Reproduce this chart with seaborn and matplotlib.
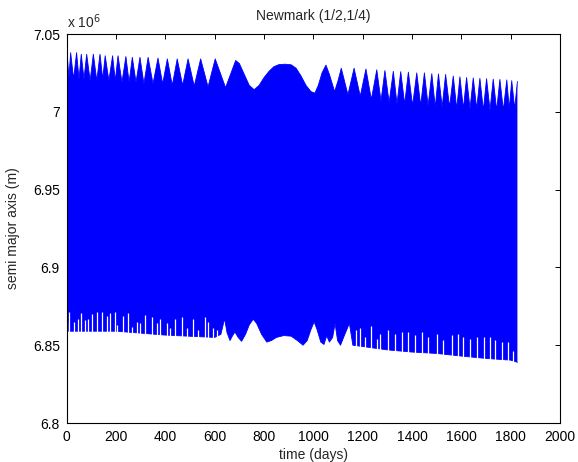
import numpy as np
import pandas as pd
import seaborn as sns
import matplotlib.pyplot as plt
from matplotlib.ticker import FuncFormatter

# upper edge of the oscillation band (peaks and troughs), semi major axis in 1e6 m
upper_t = [0, 2, 9, 16, 28, 40, 50, 59, 70, 81, 95, 108, 122, 135, 146, 156, 171, 186, 197, 208,
           224, 240, 253, 266, 281, 297, 313, 330, 350, 370, 389, 408, 428, 448, 470, 492, 517, 543,
           573, 602, 644, 685, 700, 720, 740, 760, 780, 800, 820, 840, 860, 885, 910, 930, 950, 970,
           990, 1006, 1020, 1035, 1051, 1065, 1086, 1100, 1113, 1140, 1165, 1190, 1213, 1235, 1257,
           1274, 1290, 1307, 1324, 1339, 1354, 1370, 1385, 1402, 1419, 1435, 1450, 1465, 1480, 1494,
           1507, 1522, 1536, 1552, 1567, 1581, 1594, 1608, 1621, 1635, 1648, 1662, 1675, 1689, 1702,
           1716, 1729, 1743, 1756, 1770, 1784, 1794, 1804, 1816, 1827]
upper_v = [7.035, 7.037, 7.022, 7.038, 7.021, 7.038, 7.021, 7.037, 7.021, 7.037, 7.020, 7.037, 7.020,
           7.037, 7.021, 7.036, 7.020, 7.036, 7.020, 7.036, 7.019, 7.0355, 7.019, 7.035, 7.019, 7.035,
           7.018, 7.035, 7.018, 7.0345, 7.018, 7.034, 7.017, 7.034, 7.017, 7.034, 7.0165, 7.034, 7.016,
           7.034, 7.0155, 7.033, 7.031, 7.024, 7.017, 7.0142, 7.017, 7.022, 7.026, 7.029, 7.0303, 7.0306,
           7.0302, 7.028, 7.023, 7.017, 7.013, 7.012, 7.017, 7.025, 7.030, 7.024, 7.013, 7.020, 7.028,
           7.011, 7.028, 7.010, 7.0275, 7.008, 7.027, 7.007, 7.0265, 7.006, 7.026, 7.005, 7.0258, 7.005,
           7.0255, 7.004, 7.025, 7.004, 7.025, 7.004, 7.0245, 7.003, 7.0243, 7.003, 7.024, 7.003, 7.023,
           7.002, 7.0225, 7.002, 7.022, 7.002, 7.0218, 7.002, 7.0215, 7.001, 7.0213, 7.001, 7.021, 7.001,
           7.0208, 7.001, 7.0205, 7.002, 7.020, 7.002, 7.0195]

# lower edge of the band
lower_t = [0, 200, 400, 600, 625, 640, 650, 662, 672, 682, 695, 709, 725, 740, 756, 770, 790, 811,
           830, 850, 880, 910, 935, 958, 975, 990, 1003, 1015, 1030, 1043, 1054, 1065, 1078, 1088,
           1098, 1110, 1125, 1146, 1160, 1300, 1400, 1500, 1600, 1700, 1800, 1827]
lower_v = [6.859, 6.859, 6.8565, 6.855, 6.857, 6.867, 6.858, 6.853, 6.856, 6.8585, 6.855, 6.8525,
           6.857, 6.863, 6.8667, 6.864, 6.857, 6.852, 6.853, 6.855, 6.8562, 6.8558, 6.853, 6.850,
           6.853, 6.860, 6.865, 6.860, 6.852, 6.8505, 6.856, 6.852, 6.855, 6.864, 6.853, 6.850,
           6.856, 6.864, 6.850, 6.847, 6.8456, 6.8447, 6.843, 6.8415, 6.8404, 6.839]

# narrow upward notches in the lower edge
spike_t = [3, 9, 30, 47, 57, 74, 88, 104, 122, 144, 162, 175, 196, 203, 230, 250, 263, 284, 297,
           317, 345, 365, 378, 405, 419, 439, 466, 486, 513, 534, 561, 574, 594, 608,
           1173, 1189, 1209, 1232, 1257, 1270, 1304, 1331, 1358, 1385, 1412, 1439, 1466, 1500,
           1527, 1561, 1588, 1608, 1635, 1662, 1692, 1716, 1736, 1763, 1790, 1811]
spike_v = [6.865, 6.8714, 6.865, 6.867, 6.871, 6.866, 6.867, 6.870, 6.8714, 6.8712, 6.869, 6.8705,
           6.8714, 6.863, 6.869, 6.8705, 6.862, 6.865, 6.864, 6.8693, 6.868, 6.864, 6.867, 6.864,
           6.861, 6.867, 6.868, 6.861, 6.867, 6.860, 6.868, 6.865, 6.861, 6.860,
           6.8597, 6.861, 6.8554, 6.8625, 6.854, 6.8575, 6.8597, 6.8575, 6.8586, 6.8586, 6.8565,
           6.8586, 6.8554, 6.8575, 6.8532, 6.8565, 6.8575, 6.8554, 6.8543, 6.8554, 6.8554, 6.8554,
           6.8532, 6.852, 6.852, 6.846]

up = pd.DataFrame({'t': upper_t, 'a': np.array(upper_v) * 1e6})
lo = pd.DataFrame({'t': lower_t, 'a': np.array(lower_v) * 1e6})

sns.set_style('white')
plt.rcParams['font.family'] = ['Liberation Sans', 'DejaVu Sans']
plt.rcParams['font.size'] = 10

fig = plt.figure(figsize=(5.78, 4.62), dpi=100)
ax = fig.add_axes([0.1154, 0.0844, 0.8536, 0.842])

blue = (0, 0, 1)
# band outline: upper edge left to right, lower edge back right to left
band_t = np.concatenate([up['t'], lo['t'][::-1]])
band_a = np.concatenate([up['a'], lo['a'][::-1]])
ax.fill(band_t, band_a, color=blue, lw=0)
sns.lineplot(data=up, x='t', y='a', color=blue, lw=0.6, ax=ax)
sns.lineplot(data=lo, x='t', y='a', color=blue, lw=0.6, ax=ax)
ax.vlines(spike_t, 6.83e6, np.array(spike_v) * 1e6, color='white', lw=0.9)

ax.set_xlim(0, 2000)
ax.set_ylim(6.8e6, 7.05e6)
ax.set_xticks(np.arange(0, 2001, 200))
ax.set_yticks(np.arange(6.8e6, 7.0501e6, 0.05e6))
ax.yaxis.set_major_formatter(FuncFormatter(lambda v, p: f'{v / 1e6:g}'))
ax.tick_params(direction='in', length=3.5, width=0.7, top=True, right=True,
               labelsize=10, colors='black', pad=5)
for s in ax.spines.values():
    s.set_color('black')
    s.set_linewidth(0.8)

ax.set_title('Newmark (1/2,1/4)', fontsize=10, pad=10)
ax.set_xlabel('time (days)', fontsize=10, labelpad=3)
ax.set_ylabel('semi major axis (m)', fontsize=10, labelpad=9)
ax.text(0, 1.008, r'x 10$^{6}$', transform=ax.transAxes, fontsize=10, ha='left', va='bottom')

fig.savefig('out.png', dpi=100)
